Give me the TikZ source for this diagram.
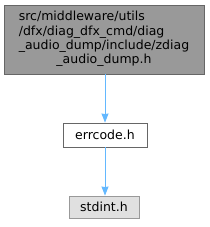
\documentclass[tikz,border=0pt]{standalone}
\usepackage{fontspec}
\setmainfont{DejaVu Sans}
\usepackage{tikz}
\usetikzlibrary{arrows.meta,positioning}
\definecolor{mainfill}{HTML}{999999}
\definecolor{mainedge}{HTML}{666666}
\definecolor{sysfill}{HTML}{E0E0E0}
\definecolor{sysedge}{HTML}{999999}
\definecolor{inclc}{HTML}{63B8FF}
\tikzset{
  filenode/.style={rectangle, draw=mainedge, fill=white, line width=0.9pt,
    inner sep=0pt, font=\fontsize{12.5}{14.3}\selectfont, align=center},
  mainnode/.style={filenode, fill=mainfill},
  sysnode/.style={filenode, draw=sysedge, fill=sysfill},
  incledge/.style={-{Stealth[length=9pt, width=7pt, inset=0.5pt]}, draw=inclc, line width=0.9pt},
}
\begin{document}
\begin{tikzpicture}[x=1pt, y=1pt]
  \useasboundingbox (0,0) rectangle (209,227);
  \node[mainnode, minimum width=200pt, minimum height=69pt] (zdiag) at (104,187.5)
    {\begin{tabular}{@{}l@{}}src/middleware/utils\\/dfx/diag\_dfx\_cmd/diag\\\_audio\_dump/include/zdiag\\\multicolumn{1}{@{}c@{}}{\_audio\_dump.h}\end{tabular}};
  \node[filenode, minimum width=84pt, minimum height=24pt] (errcode) at (105,92) {errcode.h};
  \node[sysnode, minimum width=70pt, minimum height=22pt] (stdint) at (104,20) {stdint.h};
  \draw[incledge] (zdiag.south -| errcode.north) -- (errcode);
  \draw[incledge] (errcode) -- (stdint.north -| errcode.south);
\end{tikzpicture}
\end{document}
